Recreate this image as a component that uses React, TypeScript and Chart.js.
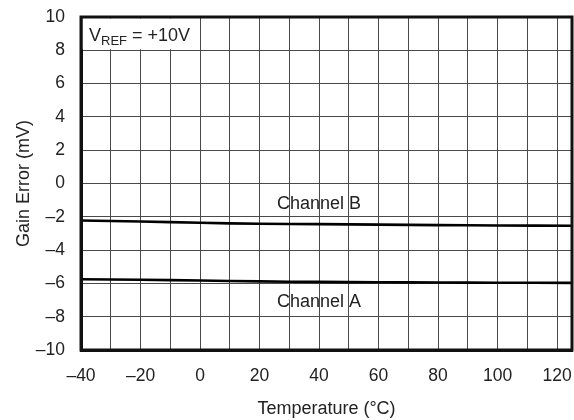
import React, { useEffect, useRef } from 'react';
import { Chart, registerables } from 'chart.js';

Chart.register(...registerables);

// ---- Data ----
const temperatures = [-40, -20, 0, 20, 40, 60, 80, 100, 125];
const channelB = [-2.22, -2.28, -2.36, -2.42, -2.44, -2.47, -2.5, -2.52, -2.54];
const channelA = [-5.75, -5.78, -5.83, -5.88, -5.91, -5.93, -5.95, -5.96, -5.97];

const xGridValues = [-40, -30, -20, -10, 0, 10, 20, 30, 40, 50, 60, 70, 80, 90, 100, 110, 120];
const xLabelValues = [-40, -20, 0, 20, 40, 60, 80, 100, 120];
const yTickValues = [-10, -8, -6, -4, -2, 0, 2, 4, 6, 8, 10];

const xMin = -40;
const xMax = 125;
const yMin = -10;
const yMax = 10;

const seriesNames = ['Channel B', 'Channel A'];
const seriesLabelX = [40, 40];
const seriesLabelY = [-1.25, -7.1];

const FONT = "'Liberation Sans', Arial, Helvetica, sans-serif";
const TEXT = '#222';

const fmt = (v: number) => (v < 0 ? '\u2013' + Math.abs(v) : String(v));

const overlayPlugin = {
  id: 'overlay',
  afterDraw(chart: any) {
    const { ctx, chartArea, scales } = chart;
    const xs = scales.x;
    const ys = scales.y;
    ctx.save();
    // VREF box (white background over grid)
    const bx0 = chartArea.left + 1.5;
    const bx1 = xs.getPixelForValue(0) - 2;
    const by0 = chartArea.top + 1.5;
    const by1 = ys.getPixelForValue(8) - 1;
    ctx.fillStyle = '#fff';
    ctx.fillRect(bx0, by0, bx1 - bx0, by1 - by0);
    ctx.fillStyle = TEXT;
    ctx.textBaseline = 'alphabetic';
    ctx.textAlign = 'left';
    let tx = chartArea.left + 8;
    const base = chartArea.top + 24;
    ctx.font = `18px ${FONT}`;
    ctx.fillText('V', tx, base);
    tx += ctx.measureText('V').width;
    ctx.font = `13px ${FONT}`;
    ctx.fillText('REF', tx, base + 4);
    tx += ctx.measureText('REF').width;
    ctx.font = `18px ${FONT}`;
    ctx.fillText(' = +10V', tx, base);

    // series labels
    ctx.font = `18px ${FONT}`;
    ctx.textAlign = 'center';
    ctx.textBaseline = 'middle';
    seriesNames.forEach((name, i) => {
      const px = xs.getPixelForValue(seriesLabelX[i]);
      const py = ys.getPixelForValue(seriesLabelY[i]);
      ctx.fillText(name, px, py);
    });

    // frame
    ctx.strokeStyle = '#111';
    ctx.lineWidth = 3;
    ctx.strokeRect(chartArea.left, chartArea.top, chartArea.right - chartArea.left, chartArea.bottom - chartArea.top);
    ctx.restore();
  },
};

export default function App() {
  const ref = useRef<HTMLCanvasElement | null>(null);

  useEffect(() => {
    if (!ref.current) return;
    const chart = new Chart(ref.current, {
      type: 'line',
      data: {
        datasets: [
          {
            label: seriesNames[0],
            data: temperatures.map((t, i) => ({ x: t, y: channelB[i] })),
            borderColor: '#000',
            borderWidth: 2.6,
            pointRadius: 0,
            tension: 0.3,
          },
          {
            label: seriesNames[1],
            data: temperatures.map((t, i) => ({ x: t, y: channelA[i] })),
            borderColor: '#000',
            borderWidth: 2.6,
            pointRadius: 0,
            tension: 0.3,
          },
        ],
      },
      options: {
        animation: false,
        responsive: false,
        maintainAspectRatio: false,
        layout: { padding: { left: 0, right: 2, top: 17, bottom: 0 } },
        plugins: {
          legend: { display: false },
          tooltip: { enabled: false },
        },
        scales: {
          x: {
            type: 'linear',
            min: xMin,
            max: xMax,
            afterBuildTicks: (s: any) => {
              s.ticks = xGridValues.map((v) => ({ value: v }));
            },
            afterFit: (s: any) => {
              s.height = 70;
              s.paddingLeft = 0;
              s.paddingRight = 0;
            },
            ticks: {
              padding: 16,
              maxRotation: 0,
              minRotation: 0,
              autoSkip: false,
              color: TEXT,
              font: { family: FONT, size: 17.5 },
              callback: (v: any) => (xLabelValues.includes(Number(v)) ? fmt(Number(v)) : ''),
            },
            grid: { color: '#4a4a4a', lineWidth: 1, drawTicks: false },
            border: { display: true, color: '#111', width: 3 },
            title: {
              display: true,
              text: 'Temperature (\u00B0C)',
              color: TEXT,
              font: { family: FONT, size: 18 },
              padding: { top: 0, bottom: 0 },
            },
          },
          y: {
            type: 'linear',
            min: yMin,
            max: yMax,
            afterBuildTicks: (s: any) => {
              s.ticks = yTickValues.map((v) => ({ value: v }));
            },
            afterFit: (s: any) => {
              s.width = 81;
              s.paddingTop = 0;
              s.paddingBottom = 0;
            },
            ticks: {
              padding: 16,
              color: TEXT,
              font: { family: FONT, size: 17.5 },
              callback: (v: any) => fmt(Number(v)),
            },
            grid: { color: '#4a4a4a', lineWidth: 1, drawTicks: false },
            border: { display: true, color: '#111', width: 3 },
            title: {
              display: true,
              text: 'Gain Error (mV)',
              color: TEXT,
              font: { family: FONT, size: 18 },
              padding: { top: 13, bottom: 0 },
            },
          },
        },
      },
      plugins: [overlayPlugin],
    });
    return () => chart.destroy();
  }, []);

  return (
    <div style={{ position: 'fixed', left: 0, top: 0, width: 574, height: 420, background: '#fff' }}>
      <canvas ref={ref} width={574} height={420} style={{ width: 574, height: 420 }} />
    </div>
  );
}
